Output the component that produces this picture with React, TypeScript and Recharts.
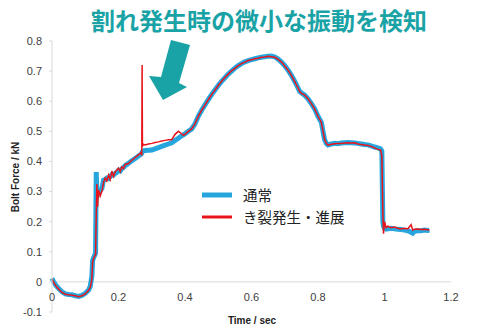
import React from "react";
import { LineChart, Line, XAxis, YAxis, ReferenceLine, Legend } from "recharts";

const titleText = "割れ発生時の微小な振動を検知";
const xAxisTitle = "Time / sec";
const yAxisTitle = "Bolt Force / kN";
const seriesNames = ["通常", "き裂発生・進展"];
const xTicks = [0, 0.2, 0.4, 0.6, 0.8, 1, 1.2];
const yTicks = [-0.1, 0, 0.1, 0.2, 0.3, 0.4, 0.5, 0.6, 0.7, 0.8];

const times = [
  0.0, 0.005, 0.012, 0.02, 0.03, 0.04, 0.05, 0.06, 0.07, 0.08, 0.09, 0.1, 0.11, 0.115, 0.12, 0.122, 0.125,
  0.128, 0.131, 0.133, 0.135, 0.137, 0.14, 0.145, 0.15, 0.155, 0.16, 0.165, 0.17, 0.175, 0.18, 0.185, 0.19,
  0.195, 0.2, 0.205, 0.21, 0.215, 0.22, 0.23, 0.24, 0.25, 0.26, 0.268, 0.27, 0.271, 0.272, 0.275, 0.28, 0.29,
  0.3, 0.31, 0.32, 0.33, 0.34, 0.35, 0.36, 0.37, 0.38, 0.39, 0.395, 0.4, 0.41, 0.42, 0.43, 0.44, 0.45, 0.46,
  0.47, 0.48, 0.49, 0.5, 0.51, 0.52, 0.53, 0.54, 0.55, 0.56, 0.57, 0.58, 0.59, 0.6, 0.61, 0.62, 0.63, 0.64,
  0.65, 0.66, 0.67, 0.68, 0.69, 0.7, 0.71, 0.72, 0.73, 0.74, 0.745, 0.75, 0.76, 0.77, 0.78, 0.79, 0.8, 0.81,
  0.815, 0.82, 0.825, 0.83, 0.84, 0.85, 0.86, 0.87, 0.88, 0.89, 0.9, 0.91, 0.92, 0.93, 0.94, 0.95, 0.96, 0.97,
  0.98, 0.988, 0.992, 0.995, 0.997, 1.0, 1.005, 1.01, 1.02, 1.03, 1.04, 1.05, 1.06, 1.07, 1.08, 1.085, 1.09,
  1.1, 1.11, 1.12, 1.13, 1.135,
];

const normalForce = [
  0.012, 0.0, -0.012, -0.022, -0.033, -0.04, -0.042, -0.043, -0.046, -0.048, -0.045, -0.038, -0.027, -0.015, 0.02, 0.07, 0.08,
  0.088, 0.095, 0.365, 0.3, 0.292, 0.305, 0.303, 0.31, 0.338, 0.34, 0.345, 0.343, 0.35, 0.356, 0.355, 0.36,
  0.364, 0.37, 0.368, 0.376, 0.38, 0.386, 0.394, 0.402, 0.41, 0.418, 0.424, 0.427, 0.43, 0.432, 0.435, 0.436, 0.437,
  0.438, 0.442, 0.446, 0.45, 0.454, 0.458, 0.462, 0.47, 0.477, 0.485, 0.488, 0.492, 0.5, 0.508, 0.525, 0.55, 0.57, 0.588,
  0.605, 0.622, 0.637, 0.652, 0.666, 0.678, 0.69, 0.7, 0.71, 0.718, 0.725, 0.731, 0.735, 0.738, 0.741, 0.744, 0.746, 0.748,
  0.749, 0.75, 0.747, 0.74, 0.73, 0.718, 0.703, 0.686, 0.666, 0.644, 0.632, 0.628, 0.62, 0.608, 0.592, 0.574, 0.55, 0.53,
  0.5, 0.472, 0.46, 0.455, 0.458, 0.46, 0.459, 0.461, 0.462, 0.463, 0.462, 0.461, 0.46, 0.458, 0.456, 0.455, 0.452, 0.448,
  0.445, 0.442, 0.435, 0.2, 0.185, 0.178, 0.175, 0.176, 0.178, 0.176, 0.175, 0.174, 0.172, 0.17, 0.165, 0.162, 0.168,
  0.17, 0.17, 0.172, 0.171, 0.172,
];

const crackForce = [
  0.01, -0.002, -0.014, -0.024, -0.035, -0.041, -0.043, -0.044, -0.046, -0.049, -0.046, -0.04, -0.028, -0.018, 0.01, 0.065, 0.078,
  0.085, 0.09, 0.22, 0.325, 0.25, 0.305, 0.285, 0.3, 0.33, 0.345, 0.335, 0.355, 0.34, 0.368, 0.35, 0.365,
  0.372, 0.378, 0.366, 0.382, 0.376, 0.39, 0.393, 0.404, 0.413, 0.422, 0.43, 0.42, 0.72, 0.45, 0.457, 0.455, 0.458,
  0.46, 0.463, 0.465, 0.468, 0.47, 0.472, 0.472, 0.49, 0.5, 0.492, 0.487, 0.49, 0.5, 0.508, 0.525, 0.55, 0.57, 0.587,
  0.605, 0.622, 0.637, 0.652, 0.666, 0.679, 0.69, 0.701, 0.709, 0.718, 0.725, 0.73, 0.735, 0.738, 0.741, 0.743, 0.746, 0.747,
  0.749, 0.748, 0.746, 0.739, 0.73, 0.717, 0.703, 0.686, 0.665, 0.644, 0.632, 0.626, 0.62, 0.608, 0.592, 0.574, 0.55, 0.53,
  0.5, 0.472, 0.46, 0.454, 0.457, 0.459, 0.46, 0.46, 0.461, 0.462, 0.461, 0.462, 0.458, 0.456, 0.455, 0.453, 0.45, 0.445,
  0.44, 0.438, 0.42, 0.23, 0.16, 0.2, 0.18, 0.185, 0.18, 0.182, 0.178, 0.176, 0.178, 0.176, 0.19, 0.172, 0.175,
  0.176, 0.174, 0.175, 0.173, 0.172,
];

const data = times.map((t, i) => ({ t, normal: normalForce[i], crack: crackForce[i] }));

const BLUE = "#27a6de";
const RED = "#e8141b";
const TEAL = "#1aa3a6";
const FONT = "'Liberation Sans', Arial, sans-serif";

const XTick = (props: any) => {
  const { x, y, payload } = props;
  return (
    <text x={x} y={y - 11} textAnchor="middle" fontSize={11} fill="#404040" fontFamily={FONT}>
      {String(payload.value)}
    </text>
  );
};

const LegendContent = (props: any) => {
  const payload = [...(props.payload || [])].sort(
    (a: any, b: any) => seriesNames.indexOf(a.value) - seriesNames.indexOf(b.value)
  );
  return (
    <div style={{ fontFamily: "'Noto Sans CJK JP', sans-serif" }}>
      {payload.map((p: any, i: number) => (
        <div key={i} style={{ display: "flex", alignItems: "center", height: 22 }}>
          <svg width={41} height={22}>
            <line x1={0} x2={30} y1={11} y2={11} stroke={p.color} strokeWidth={i === 0 ? 5 : 3} />
          </svg>
          <span style={{ fontSize: 14.5, color: "#222", lineHeight: "22px" }}>{p.value}</span>
        </div>
      ))}
    </div>
  );
};

export default function App() {
  return (
    <div style={{ position: "absolute", left: 0, top: 0, width: 500, height: 336, background: "#fff" }}>
      <LineChart width={500} height={336} data={data} margin={{ top: 41, right: 49, bottom: 0, left: 0 }}>
        <XAxis
          dataKey="t"
          type="number"
          domain={[0, 1.2]}
          ticks={xTicks}
          height={24}
          axisLine={false}
          tickLine={false}
          tickSize={0}
          tickMargin={0}
          tick={<XTick />}
          interval={0}
        />
        <YAxis
          type="number"
          domain={[-0.1, 0.8]}
          ticks={yTicks}
          width={52}
          interval={0}
          axisLine={{ stroke: "#d9d9d9" }}
          tickLine={{ stroke: "#d9d9d9" }}
          tickSize={3}
          tickMargin={7}
          tick={{ fontSize: 11, fill: "#404040", fontFamily: FONT }}
        />
        <ReferenceLine y={0} stroke="#d9d9d9" strokeWidth={1} />
        <Legend
          layout="vertical"
          verticalAlign="middle"
          align="center"
          content={<LegendContent />}
          wrapperStyle={{ position: "absolute", left: 202, top: 184, width: 160, height: 44 }}
        />
        <Line
          type="linear"
          dataKey="normal"
          name={seriesNames[0]}
          stroke={BLUE}
          strokeWidth={5}
          dot={false}
          isAnimationActive={false}
        />
        <Line
          type="linear"
          dataKey="crack"
          name={seriesNames[1]}
          stroke={RED}
          strokeWidth={1.5}
          dot={false}
          isAnimationActive={false}
        />
      </LineChart>
      <svg width={500} height={336} style={{ position: "absolute", left: 0, top: 0, pointerEvents: "none" }}>
        <text
          x={259}
          y={30}
          textAnchor="middle"
          fontSize={24}
          fontWeight="bold"
          fill={TEAL}
          fontFamily="'Noto Sans CJK JP', sans-serif"
        >
          {titleText}
        </text>
        <polygon
          points="171,40 190,45 179,83 187,87 163,100 149,76 161,77"
          fill={TEAL}
        />
        <text
          x={252}
          y={324}
          textAnchor="middle"
          fontSize={10}
          fontWeight="bold"
          fill="#222"
          fontFamily={FONT}
        >
          {xAxisTitle}
        </text>
        <text
          x={0}
          y={0}
          transform="translate(19,177) rotate(-90)"
          textAnchor="middle"
          fontSize={10}
          fontWeight="bold"
          fill="#222"
          fontFamily={FONT}
        >
          {yAxisTitle}
        </text>
      </svg>
    </div>
  );
}
